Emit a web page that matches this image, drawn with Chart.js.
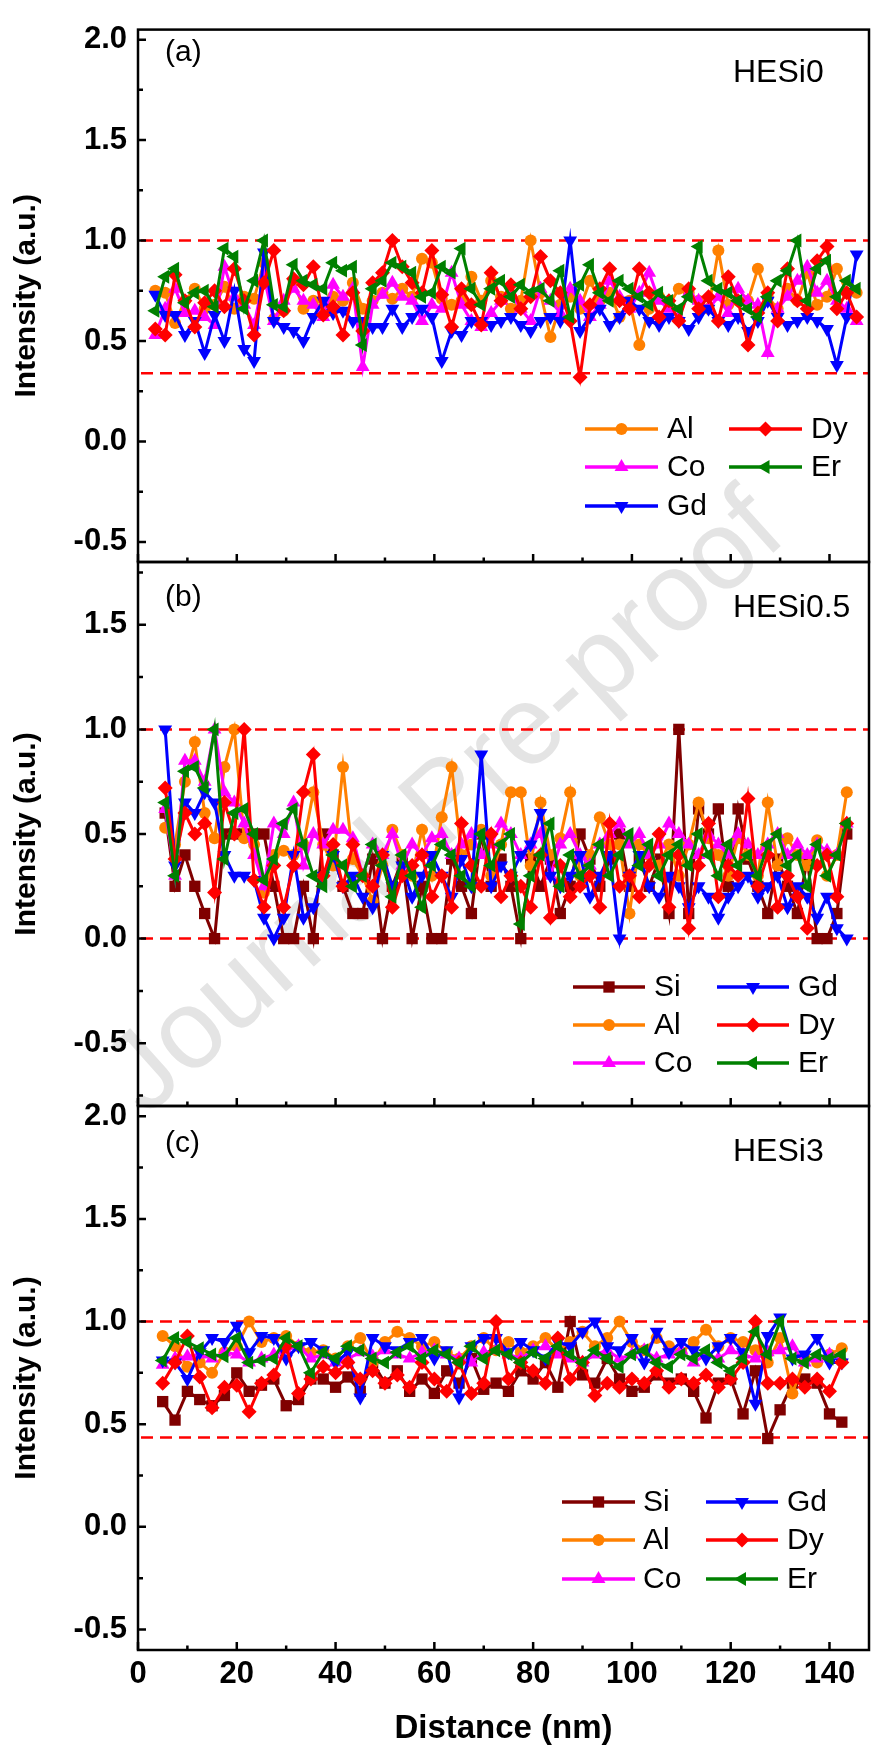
<!DOCTYPE html>
<html>
<head>
<meta charset="utf-8">
<title>Line profiles HESi0 / HESi0.5 / HESi3</title>
<script src="https://cdn.jsdelivr.net/npm/chart.js@4.4.1/dist/chart.umd.min.js"></script>
<style>
  html, body { margin: 0; padding: 0; background: #fff; }
  #fig { position: relative; width: 877px; height: 1751px; overflow: hidden; }
  #fig canvas { position: absolute; left: 0; top: 0; }
</style>
</head>
<body>
<div id="fig">
  <canvas id="panelA" width="877" height="1751"></canvas>
  <canvas id="panelB" width="877" height="1751"></canvas>
  <canvas id="panelC" width="877" height="1751"></canvas>
</div>
<script>
// ---------- data ----------
const xTicks = [0, 20, 40, 60, 80, 100, 120, 140];
const yTicksA = [-0.5, 0, 0.5, 1, 1.5, 2];
const yTicksB = [-0.5, 0, 0.5, 1, 1.5];
const yTicksC = [-0.5, 0, 0.5, 1, 1.5, 2];

// dashed guide lines
const refA = [0.34, 1.0];
const refB = [0.0, 1.0];
const refC = [0.435, 1.0];

// (a) HESi0
const distA = [3.5,5.5,7.5,9.5,11.5,13.5,15.5,17.5,19.5,21.5,23.5,25.5,27.5,29.5,31.5,33.5,35.5,37.5,39.5,41.5,43.5,45.5,47.5,49.5,51.5,53.5,55.5,57.5,59.5,61.5,63.5,65.5,67.5,69.5,71.5,73.5,75.5,77.5,79.5,81.5,83.5,85.5,87.5,89.5,91.5,93.5,95.5,97.5,99.5,101.5,103.5,105.5,107.5,109.5,111.5,113.5,115.5,117.5,119.5,121.5,123.5,125.5,127.5,129.5,131.5,133.5,135.5,137.5,139.5,141.5,143.5,145.5];
const alA = [0.75,0.74,0.59,0.70,0.76,0.66,0.68,0.77,0.66,0.72,0.71,0.89,0.61,0.65,0.80,0.66,0.70,0.65,0.72,0.70,0.79,0.66,0.70,0.74,0.71,0.76,0.72,0.91,0.89,0.71,0.68,0.70,0.82,0.70,0.80,
  0.72,0.66,0.70,1.0,0.74,0.52,0.68,0.72,0.66,0.80,0.70,0.74,0.62,0.70,0.48,0.66,0.72,0.68,0.76,0.74,0.70,0.66,0.95,0.68,0.70,0.70,0.86,0.72,0.66,0.76,0.70,0.84,0.68,0.72,0.86,0.74,0.74];
const coA = [0.53,0.66,0.76,0.64,0.65,0.62,0.58,0.87,0.72,0.68,0.58,0.82,0.60,0.70,0.76,0.70,0.68,0.62,0.78,0.72,0.76,0.37,0.68,0.73,0.79,0.72,0.70,0.60,0.68,0.66,0.84,0.68,0.60,0.57,0.64,
  0.70,0.74,0.66,0.60,0.76,0.70,0.64,0.76,0.70,0.62,0.68,0.80,0.72,0.66,0.74,0.84,0.70,0.66,0.62,0.74,0.70,0.66,0.72,0.64,0.76,0.70,0.68,0.44,0.66,0.72,0.80,0.87,0.74,0.80,0.70,0.66,0.60];
const gdA = [0.73,0.63,0.63,0.53,0.60,0.44,0.63,0.50,0.75,0.46,0.40,0.94,0.60,0.57,0.55,0.50,0.62,0.70,0.64,0.65,0.60,0.60,0.57,0.57,0.66,0.57,0.62,0.66,0.62,0.40,0.55,0.53,0.60,0.60,0.58,
  0.60,0.62,0.58,0.55,0.60,0.62,0.60,1.0,0.55,0.62,0.66,0.58,0.62,0.70,0.66,0.60,0.58,0.62,0.60,0.56,0.62,0.66,0.60,0.58,0.62,0.55,0.60,0.70,0.62,0.58,0.60,0.62,0.60,0.56,0.38,0.62,0.93];
const dyA = [0.56,0.53,0.83,0.70,0.57,0.69,0.75,0.67,0.86,0.70,0.53,0.79,0.95,0.65,0.81,0.78,0.87,0.63,0.67,0.53,0.74,0.55,0.79,0.84,1.0,0.87,0.79,0.74,0.95,0.73,0.57,0.76,0.68,0.58,0.84,
  0.70,0.78,0.66,0.72,0.92,0.80,0.74,0.60,0.32,0.68,0.76,0.86,0.70,0.66,0.86,0.74,0.62,0.70,0.60,0.76,0.66,0.72,0.60,0.82,0.70,0.48,0.64,0.74,0.60,0.86,0.70,0.66,0.90,0.97,0.66,0.74,0.62];
const erA = [0.65,0.82,0.86,0.69,0.74,0.75,0.67,0.96,0.92,0.66,0.80,1.0,0.68,0.67,0.88,0.80,0.78,0.76,0.89,0.85,0.87,0.48,0.76,0.80,0.89,0.87,0.84,0.72,0.74,0.87,0.84,0.96,0.76,0.68,0.76,
  0.80,0.72,0.78,0.74,0.76,0.70,0.85,0.62,0.78,0.88,0.74,0.70,0.80,0.76,0.72,0.68,0.74,0.70,0.66,0.72,0.97,0.80,0.76,0.74,0.70,0.66,0.62,0.72,0.80,0.85,1.0,0.70,0.86,0.90,0.72,0.80,0.76];

// (b) HESi0.5
const distB = [5.5,7.5,9.5,11.5,13.5,15.5,17.5,19.5,21.5,23.5,25.5,27.5,29.5,31.5,33.5,35.5,37.5,39.5,41.5,43.5,45.5,47.5,49.5,51.5,53.5,55.5,57.5,59.5,61.5,63.5,65.5,67.5,69.5,71.5,73.5,75.5,77.5,79.5,81.5,83.5,85.5,87.5,89.5,91.5,93.5,95.5,97.5,99.5,101.5,103.5,105.5,107.5,109.5,111.5,113.5,115.5,117.5,119.5,121.5,123.5,125.5,127.5,129.5,131.5,133.5,135.5,137.5,139.5,141.5,143.5];
const siB = [0.6,0.25,0.4,0.25,0.12,0.0,0.5,0.5,0.5,0.5, 0.5,0.25,0.0,0.0,0.25,0.0,0.5,0.4,0.25,0.12, 0.12,0.38,0.0,0.25,0.38,0.0,0.25,0.0,0.0,0.38,
  0.25,0.12,0.5,0.25,0.38,0.25,0.0,0.38,0.25,0.38, 0.12,0.25,0.5,0.38,0.25,0.38,0.5,0.25,0.38,0.25, 0.38,0.12,1.0,0.12,0.62,0.5,0.62,0.25,0.62,0.38, 0.25,0.12,0.38,0.25,0.12,0.38,0.0,0.0,0.12,0.5];
const alB = [0.53,0.45,0.75,0.94,0.60,0.48,0.82,1.0,0.48,0.45, 0.22,0.40,0.42,0.40,0.45,0.70,0.45,0.35,0.82,0.38, 0.30,0.18,0.35,0.52,0.40,0.30,0.52,0.30,0.58,0.82,
  0.40,0.45,0.52,0.30,0.45,0.70,0.70,0.35,0.65,0.40, 0.48,0.70,0.30,0.40,0.58,0.45,0.45,0.12,0.45,0.40, 0.35,0.45,0.30,0.45,0.65,0.48,0.40,0.30,0.48,0.40, 0.30,0.65,0.35,0.48,0.40,0.35,0.47,0.30,0.40,0.70];
const coB = [0.62,0.30,0.85,0.85,0.75,1.0,0.70,0.65,0.55,0.40, 0.25,0.55,0.50,0.65,0.35,0.50,0.45,0.52,0.52,0.48, 0.30,0.45,0.40,0.50,0.35,0.45,0.40,0.48,0.50,0.40,
  0.45,0.50,0.40,0.45,0.55,0.50,0.40,0.45,0.50,0.30, 0.45,0.50,0.40,0.35,0.45,0.50,0.55,0.45,0.50,0.40, 0.45,0.55,0.50,0.45,0.40,0.50,0.45,0.40,0.50,0.45, 0.40,0.45,0.50,0.40,0.45,0.40,0.45,0.42,0.40,0.55];
const gdB = [1.0,0.35,0.65,0.60,0.70,0.65,0.40,0.30,0.30,0.28, 0.10,0.0,0.10,0.40,0.10,0.15,0.30,0.40,0.25,0.30, 0.20,0.15,0.40,0.25,0.35,0.20,0.30,0.40,0.30,0.20,
  0.38,0.25,0.88,0.25,0.35,0.30,0.40,0.45,0.60,0.30, 0.25,0.30,0.40,0.20,0.30,0.40,0.0,0.30,0.40,0.25, 0.20,0.30,0.25,0.15,0.25,0.20,0.10,0.20,0.25,0.30, 0.20,0.25,0.30,0.15,0.25,0.20,0.10,0.20,0.05,0.0];
const dyB = [0.72,0.38,0.60,0.50,0.55,0.22,0.65,0.50,1.0,0.28, 0.15,0.35,0.15,0.35,0.70,0.88,0.30,0.45,0.25,0.45, 0.30,0.25,0.40,0.15,0.30,0.35,0.40,0.20,0.30,0.15,
  0.55,0.35,0.25,0.50,0.20,0.30,0.25,0.15,0.40,0.10, 0.35,0.20,0.25,0.30,0.15,0.55,0.25,0.30,0.20,0.35, 0.50,0.15,0.40,0.05,0.35,0.55,0.20,0.35,0.30,0.67, 0.25,0.40,0.15,0.30,0.20,0.05,0.35,0.40,0.20,0.55];
const erB = [0.65,0.30,0.80,0.82,0.72,1.0,0.38,0.60,0.62,0.50, 0.28,0.38,0.55,0.62,0.45,0.30,0.25,0.40,0.35,0.25, 0.30,0.45,0.35,0.20,0.40,0.30,0.15,0.35,0.45,0.40,
  0.30,0.25,0.50,0.35,0.45,0.50,0.07,0.30,0.40,0.55, 0.25,0.40,0.30,0.35,0.45,0.30,0.40,0.50,0.35,0.45, 0.30,0.40,0.45,0.35,0.50,0.40,0.30,0.45,0.35,0.40, 0.30,0.45,0.50,0.35,0.40,0.25,0.45,0.30,0.40,0.55];

// (c) HESi3
const distC = [5,7.5,10,12.5,15,17.5,20,22.5,25,27.5,30,32.5,35,37.5,40,42.5,45,47.5,50,52.5,55,57.5,60,62.5,65,67.5,70,72.5,75,77.5,80,82.5,85,87.5,90,92.5,95,97.5,100,102.5,105,107.5,110,112.5,115,117.5,120,122.5,125,127.5,130,132.5,135,137.5,140,142.5];
const siC = [0.61,0.52,0.66,0.62,0.59,0.64,0.75,0.66,0.69,0.72, 0.59,0.62,0.72,0.72,0.68,0.73,0.66,0.80,0.70,0.76, 0.66,0.72,0.65,0.76,0.70,0.82,0.67,0.70,0.66,0.76,
  0.72,0.80,0.68,1.0,0.74,0.70,0.82,0.72,0.66,0.68, 0.74,0.70,0.72,0.66,0.53,0.70,0.72,0.55,0.76,0.43, 0.57,0.70,0.72,0.70,0.55,0.51];
const alC = [0.93,0.88,0.78,0.80,0.75,0.85,0.88,1.0,0.90,0.92, 0.93,0.88,0.85,0.86,0.82,0.88,0.92,0.80,0.90,0.95, 0.92,0.88,0.90,0.85,0.82,0.88,0.92,0.86,0.90,0.85,
  0.88,0.92,0.86,0.90,0.95,0.88,0.92,1.0,0.90,0.86, 0.92,0.88,0.85,0.90,0.96,0.88,0.92,0.90,0.86,0.80, 0.92,0.65,0.82,0.80,0.84,0.87];
const coC = [0.79,0.82,0.83,0.84,0.82,0.85,0.84,0.80,0.82,0.84, 0.86,0.88,0.82,0.84,0.80,0.82,0.85,0.83,0.86,0.84, 0.82,0.85,0.86,0.84,0.82,0.80,0.85,0.86,0.84,0.82,
  0.86,0.88,0.84,0.82,0.80,0.84,0.86,0.82,0.84,0.86, 0.82,0.84,0.86,0.80,0.84,0.82,0.86,0.84,0.82,0.85, 0.86,0.88,0.80,0.82,0.84,0.82];
const gdC = [0.81,0.80,0.72,0.85,0.92,0.90,0.98,0.85,0.93,0.92, 0.82,0.88,0.90,0.86,0.80,0.85,0.63,0.92,0.88,0.86, 0.90,0.92,0.82,0.86,0.63,0.88,0.92,0.92,0.85,0.90,
  0.86,0.82,0.90,0.88,0.95,1.0,0.88,0.86,0.92,0.80, 0.95,0.85,0.90,0.86,0.82,0.88,0.92,0.85,0.60,0.93, 1.02,0.82,0.84,0.92,0.80,0.80];
const dyC = [0.70,0.80,0.93,0.73,0.58,0.68,0.69,0.56,0.70,0.74, 0.88,0.65,0.72,0.78,0.75,0.80,0.72,0.76,0.70,0.74, 0.68,0.80,0.72,0.66,0.80,0.65,0.70,1.0,0.72,0.80,
  0.76,0.70,0.92,0.72,0.80,0.64,0.70,0.68,0.72,0.70, 0.76,0.68,0.72,0.70,0.74,0.68,0.72,0.80,1.0,0.70, 0.70,0.72,0.68,0.72,0.66,0.80];
const erC = [0.81,0.92,0.90,0.87,0.84,0.83,0.92,0.80,0.81,0.82, 0.92,0.88,0.75,0.85,0.82,0.88,0.86,0.82,0.80,0.85, 0.88,0.82,0.86,0.84,0.80,0.88,0.82,0.86,0.84,0.80,
  0.85,0.82,0.88,0.84,0.80,0.86,0.82,0.78,0.84,0.86, 0.80,0.78,0.84,0.82,0.86,0.80,0.76,0.82,0.95,0.84, 1.0,0.82,0.80,0.84,0.82,0.84];

// ---------- styles ----------
const FONT = "'Liberation Sans', Arial, Helvetica, sans-serif";
const STYLE = {
  Si: { color: '#800000', point: 'rect',     rot: 0,   r: 8 },
  Al: { color: '#FF8000', point: 'circle',   rot: 0,   r: 6 },
  Co: { color: '#FF00FF', point: 'triangle', rot: 0,   r: 8 },
  Gd: { color: '#0000FF', point: 'triangle', rot: 180, r: 8 },
  Dy: { color: '#FF0000', point: 'rectRot',  rot: 0,   r: 7.5 },
  Er: { color: '#008000', point: 'triangle', rot: 270, r: 8 }
};

// panel decorations (label, sample name, legend placement)
const DECOR = {
  panelA: {
    refs: refA, tag: '(a)', tagY: 53, name: 'HESi0', nameY: 73,
    rows: [429, 467, 506], cols: [[585, 658, 667], [729, 802, 811]],
    items: [['Al', 0, 0], ['Dy', 1, 0], ['Co', 0, 1], ['Er', 1, 1], ['Gd', 0, 2]]
  },
  panelB: {
    refs: refB, tag: '(b)', tagY: 598, name: 'HESi0.5', nameY: 608,
    rows: [987, 1025, 1063], cols: [[573, 645, 654], [717, 789, 798]],
    items: [['Si', 0, 0], ['Gd', 1, 0], ['Al', 0, 1], ['Dy', 1, 1], ['Co', 0, 2], ['Er', 1, 2]]
  },
  panelC: {
    refs: refC, tag: '(c)', tagY: 1144, name: 'HESi3', nameY: 1152,
    rows: [1502, 1540, 1579], cols: [[562, 635, 643], [706, 778, 787]],
    items: [['Si', 0, 0], ['Gd', 1, 0], ['Al', 0, 1], ['Dy', 1, 1], ['Co', 0, 2], ['Er', 1, 2]]
  }
};

function drawMarker(ctx, st, x, y) {
  ctx.fillStyle = st.color;
  ctx.strokeStyle = st.color;
  if (Chart.helpers && Chart.helpers.drawPoint) {
    Chart.helpers.drawPoint(ctx, { pointStyle: st.point, radius: st.r, rotation: st.rot, borderWidth: 0 }, x, y);
  } else {
    ctx.beginPath(); ctx.arc(x, y, st.r, 0, Math.PI * 2); ctx.fill();
  }
}

const decorPlugin = {
  id: 'decor',
  beforeDraw(chart) {
    // faint watermark, only on the bottom canvas
    if (chart.canvas.id !== 'panelA') return;
    const ctx = chart.ctx;
    ctx.save();
    ctx.translate(447, 805);
    ctx.rotate(-42 * Math.PI / 180);
    ctx.font = `112px ${FONT}`;
    ctx.fillStyle = '#e4e4e4';
    ctx.textAlign = 'center';
    ctx.textBaseline = 'middle';
    ctx.fillText('Journal Pre-proof', 0, 0);
    ctx.restore();
  },
  beforeDatasetsDraw(chart) {
    const d = DECOR[chart.canvas.id];
    const { ctx, chartArea: a } = chart;
    const ys = chart.scales.y;
    ctx.save();
    ctx.strokeStyle = '#FF0000';
    ctx.lineWidth = 2.5;
    ctx.setLineDash([12, 7]);
    d.refs.forEach(v => {
      const py = ys.getPixelForValue(v);
      ctx.beginPath();
      ctx.moveTo(a.left + 3, py);
      ctx.lineTo(a.right, py);
      ctx.stroke();
    });
    ctx.restore();
  },
  afterDraw(chart) {
    const d = DECOR[chart.canvas.id];
    const { ctx, chartArea: a } = chart;
    const xs = chart.scales.x, ys = chart.scales.y;
    ctx.save();
    ctx.strokeStyle = '#000';
    ctx.lineWidth = 2.5;
    ctx.strokeRect(a.left, a.top, a.right - a.left, a.bottom - a.top);

    // inward ticks on the left axis: majors from scale ticks, minors halfway
    const yt = ys.ticks.map(t => t.value);
    const half = (yt[1] - yt[0]) / 2;
    ctx.beginPath();
    for (let v = yt[0] - half; v <= ys.max + 1e-9; v += half) {
      if (v < ys.min) continue;
      const major = yt.some(t => Math.abs(t - v) < 1e-6);
      const py = ys.getPixelForValue(v);
      ctx.moveTo(a.left, py);
      ctx.lineTo(a.left + (major ? 8 : 5), py);
    }
    // inward ticks on the bottom edge
    for (let v = 0; v <= xs.max; v += 10) {
      const major = v % 20 === 0;
      const px = xs.getPixelForValue(v);
      ctx.moveTo(px, a.bottom);
      ctx.lineTo(px, a.bottom - (major ? 8 : 4.5));
    }
    ctx.stroke();

    // panel tag and sample name
    ctx.fillStyle = '#000';
    ctx.textBaseline = 'middle';
    ctx.textAlign = 'left';
    ctx.font = `30px ${FONT}`;
    ctx.fillText(d.tag, 165, d.tagY);
    ctx.font = `32px ${FONT}`;
    ctx.fillText(d.name, 733, d.nameY);

    // legend
    ctx.font = `30px ${FONT}`;
    d.items.forEach(([name, c, r]) => {
      const st = STYLE[name];
      const [x1, x2, tx] = d.cols[c];
      const y = d.rows[r];
      ctx.strokeStyle = st.color;
      ctx.lineWidth = 3.5;
      ctx.beginPath();
      ctx.moveTo(x1, y);
      ctx.lineTo(x2, y);
      ctx.stroke();
      drawMarker(ctx, st, (x1 + x2) / 2, y);
      ctx.fillStyle = '#000';
      ctx.fillText(name, tx, y + 1);
    });
    ctx.restore();
  }
};

function makeDatasets(dist, cols) {
  return cols.map(([name, vals], i) => {
    const st = STYLE[name];
    return {
      label: name,
      data: dist.map((x, k) => ({ x: x, y: vals[k] })),
      borderColor: st.color,
      backgroundColor: st.color,
      borderWidth: 3,
      pointStyle: st.point,
      pointRadius: st.r,
      pointRotation: st.rot,
      pointBackgroundColor: st.color,
      pointBorderColor: st.color,
      pointBorderWidth: 0,
      tension: 0,
      order: cols.length - i
    };
  });
}

function buildPanel(id, cfg) {
  const tickFont = { family: FONT, size: 31, weight: 'bold' };
  return new Chart(document.getElementById(id), {
    type: 'line',
    data: { datasets: makeDatasets(cfg.dist, cfg.cols) },
    options: {
      responsive: false,
      animation: false,
      devicePixelRatio: 1,
      layout: { padding: { top: cfg.top, bottom: cfg.padBottom, left: 0, right: 3 } },
      plugins: { legend: { display: false }, tooltip: { enabled: false } },
      scales: {
        x: {
          type: 'linear', min: 0, max: 148,
          display: cfg.showX,
          afterBuildTicks: s => { s.ticks = xTicks.map(v => ({ value: v })); },
          afterFit: s => { s.height = cfg.showX ? 101 : 0; },
          ticks: { color: '#000', font: tickFont, padding: 6, maxRotation: 0, autoSkip: false, callback: v => String(v) },
          grid: { display: false, drawTicks: false },
          border: { display: false },
          title: { display: true, text: 'Distance (nm)', color: '#000', font: { family: FONT, size: 33, weight: 'bold' }, padding: { top: 0, bottom: 2 } }
        },
        y: {
          type: 'linear', min: cfg.yMin, max: cfg.yMax,
          afterBuildTicks: s => { s.ticks = cfg.yTicks.map(v => ({ value: v })); },
          afterFit: s => { s.width = 138; },
          ticks: { color: '#000', font: tickFont, padding: 11, callback: v => v.toFixed(1) },
          grid: { display: false, drawTicks: false },
          border: { display: false },
          title: { display: true, text: 'Intensity (a.u.)', color: '#000', font: { family: FONT, size: 30, weight: 'bold' }, padding: { top: 9, bottom: 0 } }
        }
      }
    },
    plugins: [decorPlugin]
  });
}

buildPanel('panelA', {
  top: 18.5, padBottom: 1751 - 562, showX: false, yMin: -0.6, yMax: 2.05, yTicks: yTicksA, dist: distA,
  cols: [['Al', alA], ['Co', coA], ['Gd', gdA], ['Dy', dyA], ['Er', erA]]
});
buildPanel('panelB', {
  top: 562, padBottom: 1751 - 1106, showX: false, yMin: -0.8, yMax: 1.8, yTicks: yTicksB, dist: distB,
  cols: [['Si', siB], ['Al', alB], ['Co', coB], ['Gd', gdB], ['Dy', dyB], ['Er', erB]]
});
buildPanel('panelC', {
  top: 1106, padBottom: 0, showX: true, yMin: -0.6, yMax: 2.05, yTicks: yTicksC, dist: distC,
  cols: [['Si', siC], ['Al', alC], ['Co', coC], ['Gd', gdC], ['Dy', dyC], ['Er', erC]]
});
</script>
</body>
</html>
